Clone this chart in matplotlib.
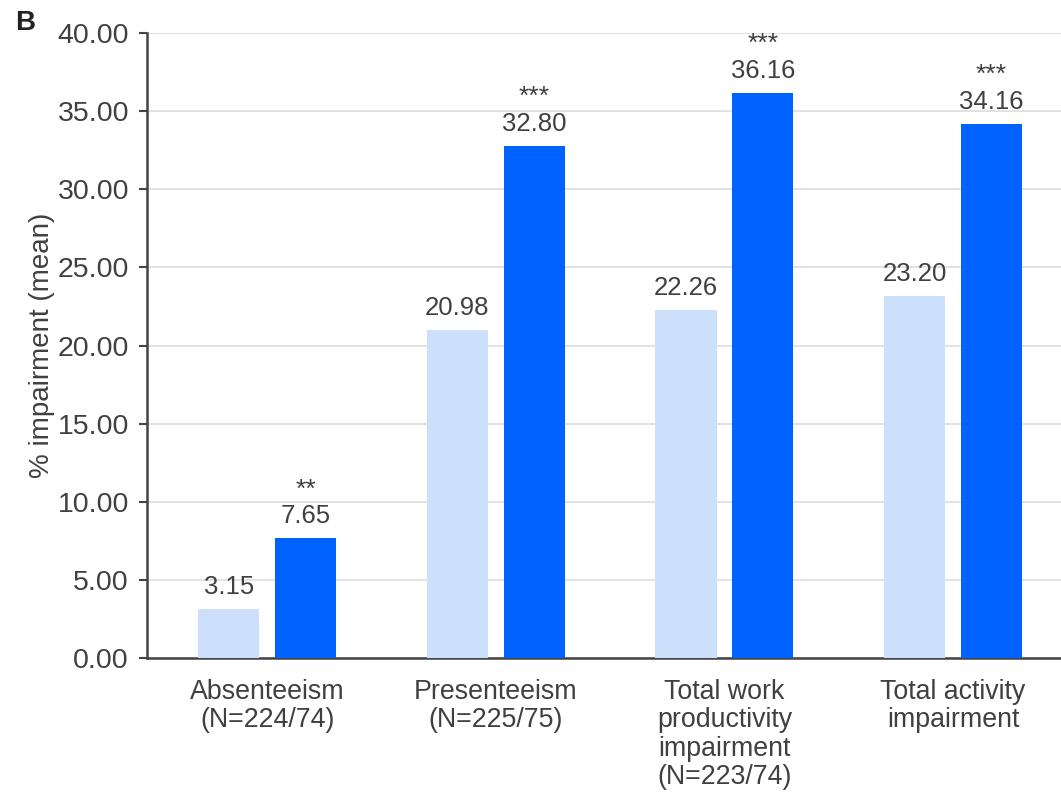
import numpy as np
import matplotlib.pyplot as plt

plt.rcParams['font.family'] = ['Liberation Sans', 'DejaVu Sans']

# data
categories = ['Absenteeism\n(N=224/74)', 'Presenteeism\n(N=225/75)',
              'Total work\nproductivity\nimpairment\n(N=223/74)', 'Total activity\nimpairment']
light_vals = [3.15, 20.98, 22.26, 23.20]
dark_vals = [7.65, 32.80, 36.16, 34.16]
stars = ['**', '***', '***', '***']

light_col = '#cde0fb'
dark_col = '#0062ff'
text_col = '#404040'

fig = plt.figure(figsize=(10.61, 7.94), dpi=100)
ax = fig.add_axes([0.1386, 0.1713, 0.8614, 0.7871])

x = np.arange(len(categories))
w = 0.267
off = 0.168
ax.bar(x - off, light_vals, w, color=light_col, zorder=3)
ax.bar(x + off, dark_vals, w, color=dark_col, zorder=3)

# value labels and significance stars (offsets in pixels)
for xi, v in zip(x, light_vals):
    ax.annotate(f'{v:.2f}', (xi - off, v), xytext=(0, 15), textcoords='offset pixels',
                ha='center', va='baseline', fontsize=18.5, color=text_col)
for xi, v, s in zip(x, dark_vals, stars):
    ax.annotate(f'{v:.2f}', (xi + off, v), xytext=(0, 15), textcoords='offset pixels',
                ha='center', va='baseline', fontsize=18.5, color=text_col)
    ax.annotate(s, (xi + off, v), xytext=(0, 42), textcoords='offset pixels',
                ha='center', va='baseline', fontsize=19, color=text_col)

ax.set_xlim(-0.525, 3.472)
ax.set_ylim(0, 40)
ticks = np.arange(0, 45, 5)
ax.set_yticks(ticks)
ax.set_yticklabels([f'{t:.2f}' for t in ticks], fontsize=20.5, color=text_col)
ax.set_xticks(x)
ax.set_xticklabels(categories, fontsize=19.3, color=text_col, linespacing=1.12, va='top')
ax.tick_params(axis='x', length=0, pad=15)
ax.tick_params(axis='y', length=6, width=1.5, color='#444444', pad=7)
ax.set_ylabel('% impairment (mean)', fontsize=20, color=text_col, labelpad=2)

ax.grid(axis='y', color='#dddddd', linewidth=1.2, zorder=0)
ax.spines['top'].set_visible(False)
ax.spines['right'].set_visible(False)
for side in ['left', 'bottom']:
    ax.spines[side].set_color('#444444')
    ax.spines[side].set_linewidth(1.8)

fig.text(0.014, 0.962, 'B', fontsize=20, fontweight='bold', color='#222222')

fig.savefig('out.png', dpi=100)
